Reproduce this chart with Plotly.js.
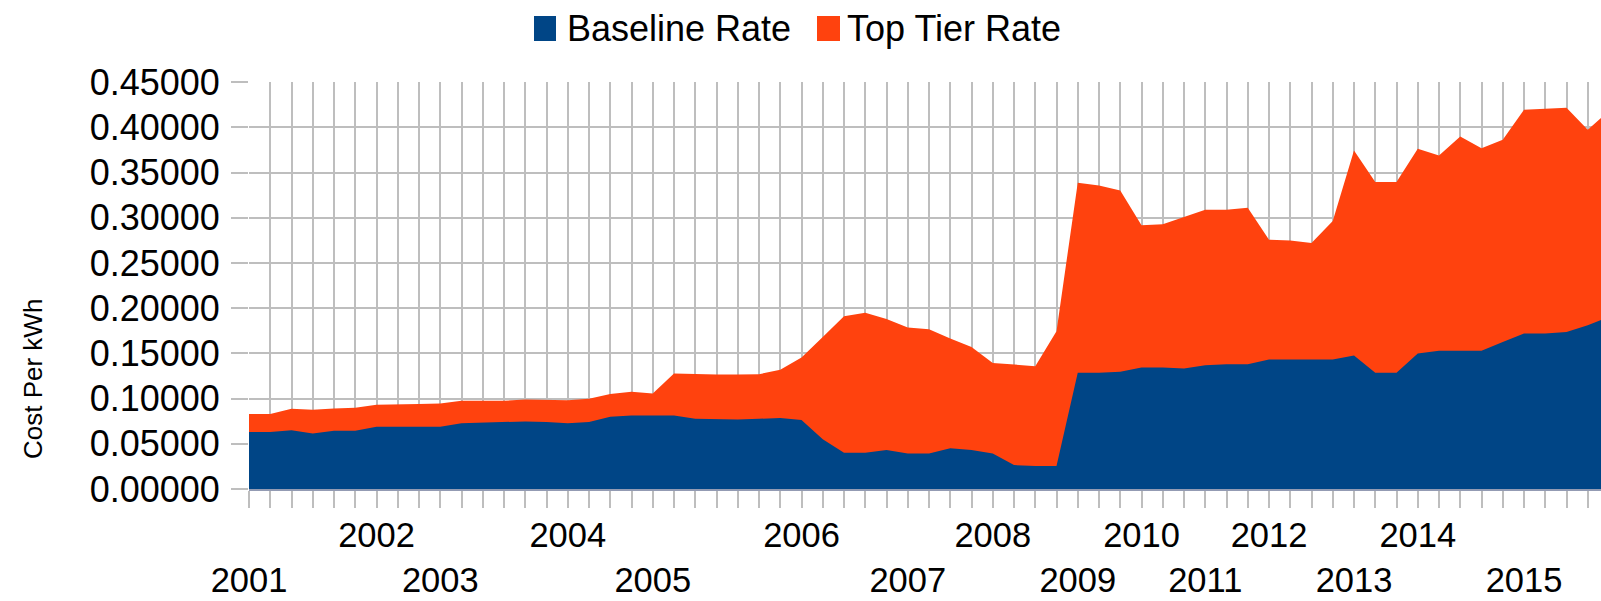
<!DOCTYPE html>
<html>
<head>
<meta charset="utf-8">
<script src="https://cdn.plot.ly/plotly-3.0.1.min.js"></script>
<style>
  html, body { margin: 0; padding: 0; background: #ffffff; }
  #chart { width: 1601px; height: 601px; }
</style>
</head>
<body>
<div id="chart"></div>
<script>
// ---- data ----
const seriesNames = ['Baseline Rate', 'Top Tier Rate'];

// category labels (one per data point; year shown at the first point of each year)
const categoryLabels = [
  '2001','','','','','',
  '2002','','',
  '2003','','','','','',
  '2004','','','',
  '2005','','','','','','',
  '2006','','','','',
  '2007','','','',
  '2008','','','',
  '2009','','',
  '2010','','',
  '2011','','',
  '2012','','','',
  '2013','','',
  '2014','','','','',
  '2015','','','',''
];

const baselineRate = [
  0.0630, 0.0630, 0.0650, 0.0615, 0.0644, 0.0644, 0.0689, 0.0689, 0.0689, 0.0689, 0.0726,
  0.0733, 0.0733, 0.0748, 0.0740, 0.0726, 0.0740, 0.0799, 0.0814, 0.0814, 0.0814, 0.0777,
  0.0770, 0.0770, 0.0777, 0.0784, 0.0762, 0.0549, 0.0401, 0.0401, 0.0431, 0.0394, 0.0394,
  0.0450, 0.0431, 0.0394, 0.0265, 0.0254, 0.0254, 0.1285, 0.1285, 0.1296, 0.1344, 0.1344,
  0.1333, 0.1370, 0.1380, 0.1380, 0.1433, 0.1433, 0.1433, 0.1433, 0.1477, 0.1285, 0.1285,
  0.1500, 0.1528, 0.1528, 0.1530, 0.1627, 0.1720, 0.1720, 0.1738, 0.1812, 0.1906
];

const topTierRate = [
  0.0829, 0.0830, 0.0887, 0.0876, 0.0890, 0.0900, 0.0932, 0.0940, 0.0940, 0.0945, 0.0976,
  0.0976, 0.0976, 0.0990, 0.0990, 0.0983, 0.0998, 0.1050, 0.1075, 0.1057, 0.1278, 0.1270,
  0.1267, 0.1267, 0.1270, 0.1320, 0.1455, 0.1680, 0.1910, 0.1950, 0.1880, 0.1786, 0.1768,
  0.1665, 0.1570, 0.1395, 0.1377, 0.1359, 0.1745, 0.3388, 0.3358, 0.3303, 0.2917, 0.2928,
  0.3008, 0.3090, 0.3090, 0.3111, 0.2758, 0.2750, 0.2720, 0.2964, 0.3745, 0.3395, 0.3395,
  0.3764, 0.3690, 0.3900, 0.3770, 0.3863, 0.4195, 0.4206, 0.4217, 0.3974, 0.4180
];

const yTickValues = [0, 0.05, 0.10, 0.15, 0.20, 0.25, 0.30, 0.35, 0.40, 0.45];
const yAxisTitle = 'Cost Per kWh';

// ---- styling / layout constants ----
const W = 1601, H = 601;
const M = { l: 249, r: 0, t: 82, b: 112 };
const catWidth = 21.25;
const colors = ['#004586', '#ff420e'];
const gridColor = '#bebebe';
const FONT = 'Liberation Sans, Arial, sans-serif';

const xIdx = categoryLabels.map((_, i) => i);

// staggered tick text
let k = 0;
const tickText = categoryLabels.map(l => {
  if (!l) return '';
  const s = (k % 2 === 0) ? '<br>' + l : l;
  k++;
  return s;
});

const plotW = W - M.l - M.r;
const plotH = H - M.t - M.b;
const px2x = px => (px - M.l) / plotW;
const px2y = py => (H - M.b - py) / plotH;

const traces = [
  {
    name: seriesNames[1], x: xIdx, y: topTierRate, type: 'scatter', mode: 'lines',
    fill: 'tozeroy', fillcolor: colors[1], line: { width: 0, color: colors[1] },
    showlegend: false, hoverinfo: 'x+y'
  },
  {
    name: seriesNames[0], x: xIdx, y: baselineRate, type: 'scatter', mode: 'lines',
    fill: 'tozeroy', fillcolor: colors[0], line: { width: 0, color: colors[0] },
    showlegend: false, hoverinfo: 'x+y'
  }
];

// manual legend (swatch + text)
const legendItems = [
  { name: seriesNames[0], color: colors[0], x0: 534, x1: 556, tx: 565 },
  { name: seriesNames[1], color: colors[1], x0: 817, x1: 840, tx: 845 }
];
const shapes = legendItems.map(it => ({
  type: 'rect', xref: 'paper', yref: 'paper',
  x0: px2x(it.x0), x1: px2x(it.x1), y0: px2y(41), y1: px2y(16),
  fillcolor: it.color, line: { width: 0 }
}));
const annotations = legendItems.map(it => ({
  text: it.name, xref: 'paper', yref: 'paper', showarrow: false,
  x: px2x(it.tx), y: px2y(29), xanchor: 'left', yanchor: 'middle',
  font: { family: FONT, size: 36, color: '#000000' }
}));
// y-axis title
annotations.push({
  text: yAxisTitle, xref: 'paper', yref: 'paper', showarrow: false,
  x: px2x(33), y: px2y(379), xanchor: 'center', yanchor: 'middle', textangle: -90,
  font: { family: FONT, size: 26, color: '#000000' }
});

const layout = {
  width: W, height: H,
  margin: M,
  paper_bgcolor: '#ffffff', plot_bgcolor: '#ffffff',
  showlegend: false,
  font: { family: FONT, color: '#000000' },
  xaxis: {
    range: [0, plotW / catWidth],
    tickmode: 'array', tickvals: xIdx, ticktext: tickText,
    showgrid: true, gridcolor: gridColor, gridwidth: 2,
    ticks: 'outside', ticklen: 17, tickwidth: 2, tickcolor: gridColor,
    ticklabelstandoff: -2,
    tickfont: { family: FONT, size: 34.5, color: '#000000' },
    tickangle: 0,
    zeroline: false, showline: true, linecolor: 'rgba(120,130,160,0.8)', linewidth: 2,
    fixedrange: true
  },
  yaxis: {
    range: [0, 0.4502],
    tickmode: 'array', tickvals: yTickValues, tickformat: '.5f',
    showgrid: true, gridcolor: gridColor, gridwidth: 2,
    ticks: 'outside', ticklen: 17, tickwidth: 2, tickcolor: gridColor,
    ticklabelstandoff: 4,
    tickfont: { family: FONT, size: 36, color: '#000000' },
    zeroline: false, showline: false,
    automargin: false,
    fixedrange: true
  },
  shapes: shapes,
  annotations: annotations
};

Plotly.newPlot('chart', traces, layout, { displayModeBar: false, staticPlot: true });
</script>
</body>
</html>
